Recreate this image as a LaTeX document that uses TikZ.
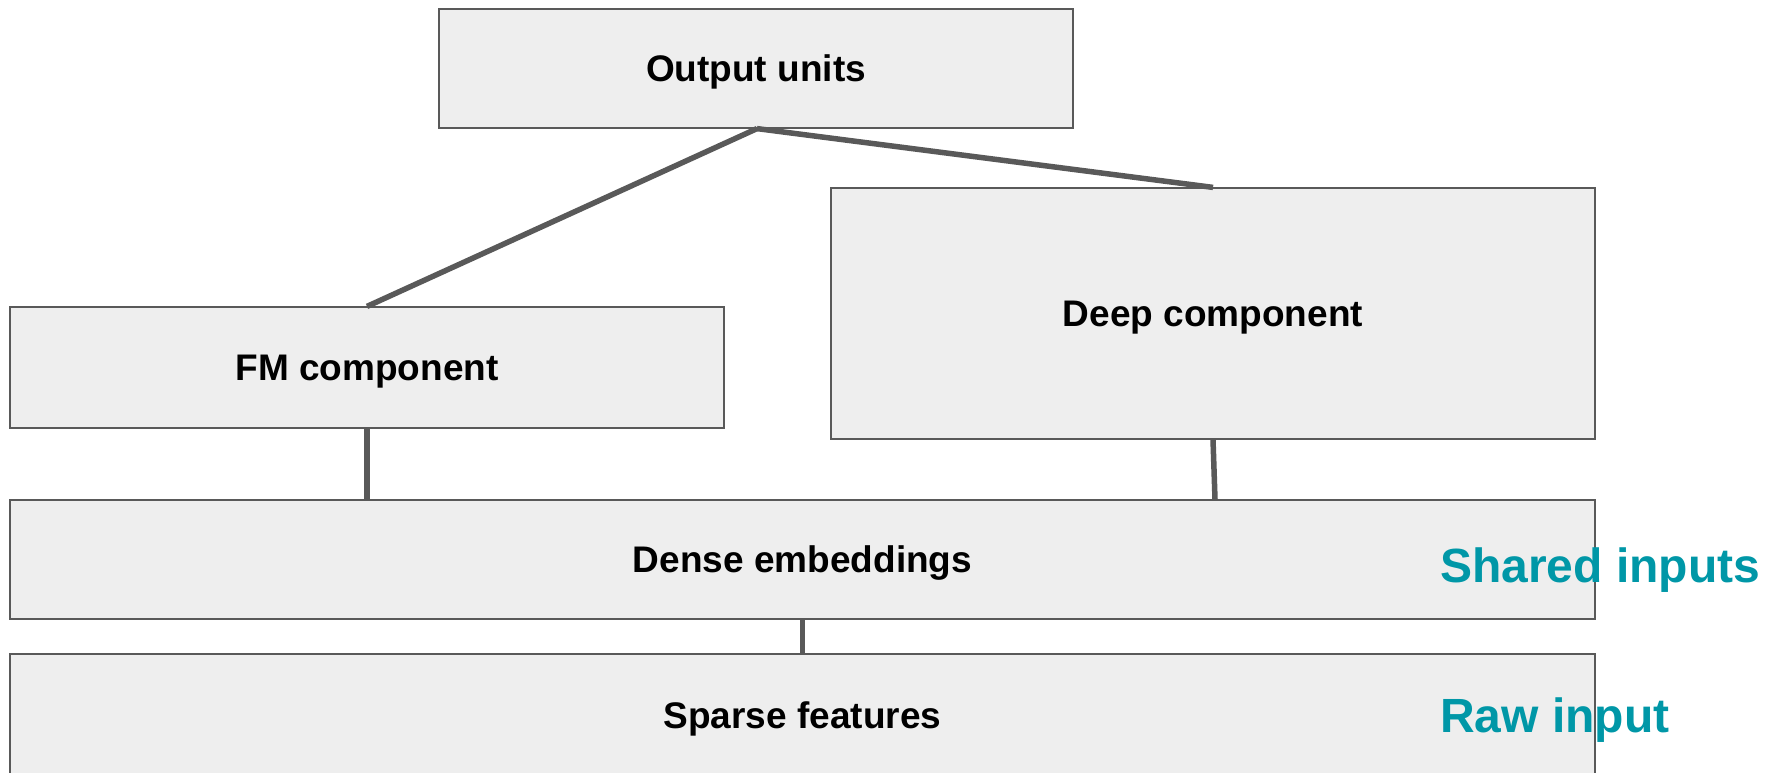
\documentclass[tikz,border=0pt]{standalone}
\usepackage{fontspec}
\setmainfont{Liberation Sans}
\definecolor{boxfill}{HTML}{EEEEEE}
\definecolor{boxline}{HTML}{595959}
\definecolor{tealtext}{HTML}{0097A7}
\tikzset{
  block/.style={draw=boxline, fill=boxfill, line width=1.2pt, inner sep=0pt,
    text height=26.5pt, text depth=0pt,
    font=\fontsize{37}{41}\selectfont\bfseries},
  link/.style={draw=boxline, line width=5.5pt},
  tag/.style={text=tealtext, inner sep=0pt, anchor=base west,
    font=\fontsize{48}{52}\selectfont\bfseries}
}
\begin{document}
\begin{tikzpicture}[x=1pt, y=-1pt]
\useasboundingbox (0,0) rectangle (1766,773);
% layers, top to bottom
\node[block, minimum width=634pt, minimum height=119pt] (out) at (756,68.5) {Output units};
\node[block, minimum width=714pt, minimum height=121pt] (fm) at (367,367.5) {FM component};
\node[block, minimum width=764pt, minimum height=251pt] (deep) at (1213,313.5) {Deep component};
\node[block, minimum width=1585pt, minimum height=119pt] (dense) at (802.5,559.5) {Dense embeddings};
\node[block, minimum width=1585pt, minimum height=122pt] (sparse) at (802.5,715) {Sparse features};
% side labels
\node[tag] (shared) at (1440,582) {Shared inputs};
\node[tag] (raw) at (1440,732) {Raw input};
% connectors
\coordinate (apex) at ([xshift=1pt]out.south);
\path[link] (apex) -- (fm.north);
\path[link] (apex) -- (deep.north);
\path[link] (fm.south) -- (fm.south |- dense.north);
\path[link] (deep.south) -- ([xshift=2pt]deep.south |- dense.north);
\path[link] (dense.south) -- (sparse.north);
\end{tikzpicture}
\end{document}
